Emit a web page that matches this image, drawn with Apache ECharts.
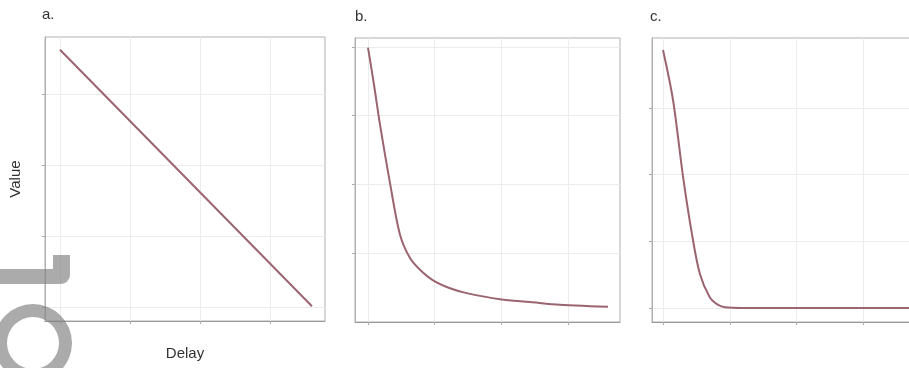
<!DOCTYPE html>
<html>
<head>
<meta charset="utf-8">
<script src="https://cdn.jsdelivr.net/npm/echarts@6/dist/echarts.min.js"></script>
<style>
html,body{margin:0;padding:0;background:#fff;}
#chart{width:909px;height:368px;}
</style>
</head>
<body>
<div id="chart"></div>
<script>
// Panel a: linear decay
var delayA = [0, 3.6];
var valueA = [3.62, 0.01];
// Panel b: hyperbolic-like decay
var delayB = [0, 0.09, 0.18, 0.33, 0.48, 0.63, 0.78, 0.97, 1.23, 1.48, 1.98, 2.43, 2.88, 3.33, 3.6];
var valueB = [3.99, 3.45, 2.87, 2.02, 1.27, 0.93, 0.76, 0.61, 0.49, 0.42, 0.33, 0.29, 0.25, 0.23, 0.22];
// Panel c: fast decay to floor
var delayC = [0, 0.15, 0.30, 0.43, 0.55, 0.70, 0.82, 0.93, 1.2, 2.0, 3.0, 4.2];
var valueC = [3.87, 3.12, 1.97, 1.13, 0.52, 0.16, 0.05, 0.01, 0, 0, 0, 0];
var xTicks = [0, 1, 2, 3];
var yTicksA = [0, 1, 2, 3];
var yTicksB = [1, 2, 3, 4];
var yTicksC = [0, 1, 2, 3];
var panelLabels = ['a.', 'b.', 'c.'];

function pairs(xs, ys){ return xs.map(function(x,i){ return [x, ys[i]]; }); }

var FONT = '"Liberation Sans", Arial, sans-serif';
var LINE = '#9a6470';

function xAxis(idx, min, max, ticks, name){
  return {
    type:'value', gridIndex: idx, min:min, max:max,
    name: name || '', nameLocation:'middle', nameGap: 25,
    nameTextStyle:{fontFamily:FONT, fontSize:15, color:'#333'},
    axisLine:{show:true, onZero:false, lineStyle:{color:'#9a9a9a', width:1}},
    axisTick:{show:true, inside:false, length:3, customValues: ticks, lineStyle:{color:'#aaa'}},
    axisLabel:{show:false},
    splitLine:{show:true, lineStyle:{color:'#ececec', width:1}}
  };
}
function yAxis(idx, min, max, ticks, name){
  return {
    type:'value', gridIndex: idx, min:min, max:max,
    name: name || '', nameLocation:'middle', nameGap: 22, nameRotate: 90,
    nameTextStyle:{fontFamily:FONT, fontSize:15, color:'#333'},
    axisLine:{show:true, onZero:false, lineStyle:{color:'#b0b0b0', width:1}},
    axisTick:{show:true, inside:false, length:3, customValues: ticks, lineStyle:{color:'#aaa'}},
    axisLabel:{show:false},
    splitLine:{show:true, lineStyle:{color:'#ececec', width:1}}
  };
}
function series(idx, xs, ys){
  return {
    type:'line', xAxisIndex: idx, yAxisIndex: idx,
    data: pairs(xs, ys), showSymbol:false, smooth:0.3,
    lineStyle:{color:LINE, width:2}, clip:true, silent:true
  };
}

var chart = echarts.init(document.getElementById('chart'), null, {renderer:'canvas'});
chart.setOption({
  animation:false,
  backgroundColor:'#fff',
  grid:[
    {left:45, top:37, width:280, height:284, show:true, borderColor:'#b0b0b0', borderWidth:1, backgroundColor:'transparent', outerBoundsMode:'none'},
    {left:355, top:38, width:265, height:284, show:true, borderColor:'#b0b0b0', borderWidth:1, backgroundColor:'transparent', outerBoundsMode:'none'},
    {left:652, top:38, width:290, height:284, show:true, borderColor:'#b0b0b0', borderWidth:1, backgroundColor:'transparent', outerBoundsMode:'none'}
  ],
  title:[
    {text:panelLabels[0], left:37, top:2, textStyle:{fontFamily:FONT, fontSize:15, fontWeight:'normal', color:'#333'}},
    {text:panelLabels[1], left:350, top:4, textStyle:{fontFamily:FONT, fontSize:15, fontWeight:'normal', color:'#333'}},
    {text:panelLabels[2], left:645, top:4, textStyle:{fontFamily:FONT, fontSize:15, fontWeight:'normal', color:'#333'}}
  ],
  xAxis:[
    xAxis(0, -0.214, 3.786, xTicks, 'Delay'),
    xAxis(1, -0.195, 3.78, xTicks),
    xAxis(2, -0.165, 4.18, xTicks)
  ],
  yAxis:[
    yAxis(0, -0.197, 3.80, yTicksA, 'Value'),
    yAxis(1, 0, 4.13, yTicksB),
    yAxis(2, -0.21, 4.05, yTicksC)
  ],
  series:[
    series(0, delayA, valueA),
    series(1, delayB, valueB),
    series(2, delayC, valueC)
  ],
  graphic:[
    {type:'rect', shape:{x:-5, y:269, width:75, height:15, r:[0,0,9,0]}, style:{fill:'rgba(128,128,128,0.66)'}, z:100},
    {type:'rect', shape:{x:53, y:255, width:17, height:14, r:0}, style:{fill:'rgba(128,128,128,0.66)'}, z:100},
    {type:'ring', shape:{cx:33, cy:343, r:39, r0:26}, style:{fill:'rgba(128,128,128,0.66)'}, z:100}
  ]
});
</script>
</body>
</html>
